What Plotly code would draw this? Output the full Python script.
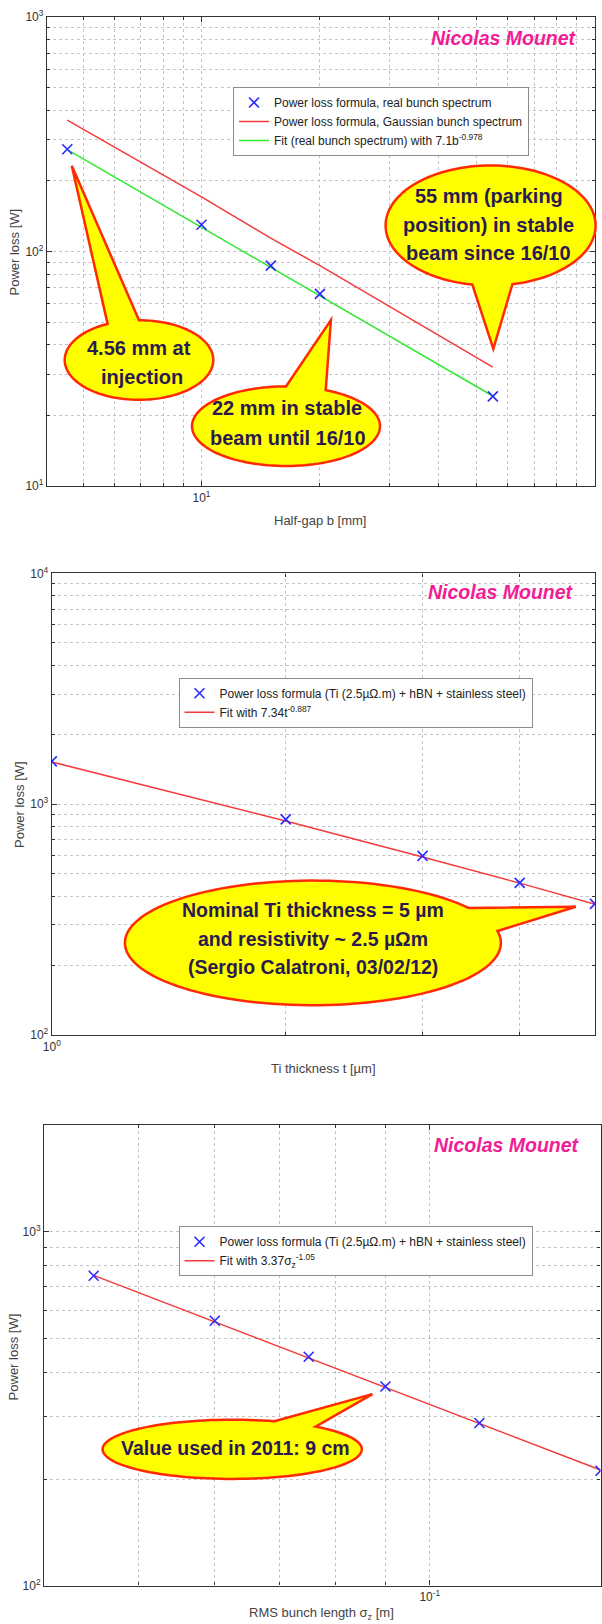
import numpy as np
import plotly.graph_objects as go

W, H = 602, 1624
FONT = "Liberation Sans, Arial, Helvetica, sans-serif"

# ---------------- data ----------------
# Panel 1: power loss vs half-gap
b_mm = [4.56, 10, 15, 20, 55]
loss_real_spectrum = [273, 130, 87, 66, 24.1]
loss_gaussian = [363, 171, 114, 87, 32.1]
fit_real_spectrum = [272, 127, 85.5, 64.5, 24.2]

# Panel 2: power loss vs Ti thickness
ti_thickness_um = [1, 2, 3, 4, 5]
loss_ti = [1534, 860, 597, 456, 370]
fit_ti = [1525, 845, 590, 455, 368]

# Panel 3: power loss vs RMS bunch length
bunch_length_m = [0.045, 0.06, 0.075, 0.09, 0.1125, 0.15]
loss_bunch = [750, 560, 443, 365, 288, 211]
fit_bunch = [752, 556, 441, 364, 288, 212]

# ---------------- ticks ----------------
p1_xtickvals = [10, 100]
p1_xticktext = ["10<sup>1</sup>", "10<sup>2</sup>"]
p1_xminor = [4, 5, 6, 7, 8, 9, 20, 30, 40, 50, 60, 70, 80, 90]
p1_ytickvals = [10, 100, 1000]
p1_yticktext = ["10<sup>1</sup>", "10<sup>2</sup>", "10<sup>3</sup>"]
p1_yminor = [20, 30, 40, 50, 60, 70, 80, 90, 200, 300, 400, 500, 600, 700, 800, 900]

p2_xtickvals = [1]
p2_xticktext = ["10<sup>0</sup>"]
p2_xminor = [2, 3, 4, 5]
p2_ytickvals = [100, 1000, 10000]
p2_yticktext = ["10<sup>2</sup>", "10<sup>3</sup>", "10<sup>4</sup>"]
p2_yminor = [200, 300, 400, 500, 600, 700, 800, 900, 2000, 3000, 4000, 5000, 6000, 7000, 8000, 9000]

p3_xtickvals = [0.1]
p3_xticktext = ["10<sup>-1</sup>"]
p3_xminor = [0.04, 0.05, 0.06, 0.07, 0.08, 0.09]
p3_ytickvals = [100, 1000]
p3_yticktext = ["10<sup>2</sup>", "10<sup>3</sup>"]
p3_yminor = [200, 300, 400, 500, 600, 700, 800, 900, 2000]


def px(x):
    return x / W


def py(y):
    return 1 - y / H


BLUE = "#2a2aff"
RED = "#f43a3a"
GREEN = "#33e833"

fig = go.Figure()

# Panel 1
fig.add_trace(go.Scatter(x=b_mm, y=loss_gaussian, mode="lines", line=dict(color=RED, width=1.5),
                         name="Power loss formula, Gaussian bunch spectrum", xaxis="x", yaxis="y",
                         legend="legend", legendrank=2))
fig.add_trace(go.Scatter(x=b_mm, y=fit_real_spectrum, mode="lines", line=dict(color=GREEN, width=1.5),
                         name="Fit (real bunch spectrum) with 7.1b<sup>-0.978</sup>", xaxis="x", yaxis="y",
                         legend="legend", legendrank=3))
fig.add_trace(go.Scatter(x=b_mm, y=loss_real_spectrum, mode="markers",
                         marker=dict(symbol="x-thin", size=10, line=dict(color=BLUE, width=1.6)),
                         name="Power loss formula, real bunch spectrum", xaxis="x", yaxis="y",
                         legend="legend", legendrank=1))

# Panel 2
fig.add_trace(go.Scatter(x=ti_thickness_um, y=fit_ti, mode="lines", line=dict(color=RED, width=1.5),
                         name="Fit with 7.34t<sup>-0.887</sup>", xaxis="x2", yaxis="y2",
                         legend="legend2", legendrank=2))
fig.add_trace(go.Scatter(x=ti_thickness_um, y=loss_ti, mode="markers",
                         marker=dict(symbol="x-thin", size=10, line=dict(color=BLUE, width=1.6)),
                         name="Power loss formula (Ti (2.5µΩ.m) + hBN + stainless steel)",
                         xaxis="x2", yaxis="y2", legend="legend2", legendrank=1))

# Panel 3
fig.add_trace(go.Scatter(x=bunch_length_m, y=fit_bunch, mode="lines", line=dict(color=RED, width=1.5),
                         name="Fit with 3.37σ<sub>z</sub><sup>-1.05</sup>", xaxis="x3", yaxis="y3",
                         legend="legend3", legendrank=2))
fig.add_trace(go.Scatter(x=bunch_length_m, y=loss_bunch, mode="markers",
                         marker=dict(symbol="x-thin", size=10, line=dict(color=BLUE, width=1.6)),
                         name="Power loss formula (Ti (2.5µΩ.m) + hBN + stainless steel)",
                         xaxis="x3", yaxis="y3", legend="legend3", legendrank=1))

GRID = "#c4c4c4"


def axis(domain, anchor, rng, tv, tt, minor_vals):
    return dict(type="log", domain=domain, anchor=anchor, range=rng, tickmode="array",
                tickvals=tv, ticktext=tt, showline=True, linecolor="#333333", linewidth=1.3,
                mirror="allticks", ticks="inside", ticklen=5, tickcolor="#333333",
                showgrid=True, gridcolor=GRID, griddash="dot", gridwidth=1,
                minor=dict(tickmode="array", tickvals=minor_vals, ticks="inside", ticklen=3,
                           tickcolor="#333333", showgrid=True, gridcolor=GRID, griddash="dot",
                           gridwidth=1),
                zeroline=False, automargin=False,
                tickfont=dict(family=FONT, size=12, color="#333333"))


layout = dict(
    width=W, height=H, margin=dict(l=0, r=0, t=0, b=0),
    paper_bgcolor="white", plot_bgcolor="white",
    font=dict(family=FONT, size=12, color="#333"),
    xaxis=axis([px(47), px(595)], "y", [np.log10(4.05), 2], p1_xtickvals, p1_xticktext, p1_xminor),
    yaxis=axis([py(486), py(17)], "x", [1, 3], p1_ytickvals, p1_yticktext, p1_yminor),
    xaxis2=axis([px(51.8), px(595)], "y2", [0, np.log10(5)], p2_xtickvals, p2_xticktext, p2_xminor),
    yaxis2=axis([py(1035), py(573.4)], "x2", [2, 4], p2_ytickvals, p2_yticktext, p2_yminor),
    xaxis3=axis([px(44.1), px(600.5)], "y3", [np.log10(0.04), np.log10(0.15)], p3_xtickvals,
                p3_xticktext, p3_xminor),
    yaxis3=axis([py(1585.6), py(1125)], "x3", [2, np.log10(2000)], p3_ytickvals, p3_yticktext, p3_yminor),
)

leg_common = dict(xanchor="left", yanchor="top", bgcolor="white", bordercolor="#8c8c8c",
                  borderwidth=1, font=dict(family=FONT, size=12, color="#222"),
                  itemwidth=30, tracegroupgap=0)
layout["legend"] = dict(x=px(233), y=py(87), **leg_common)
layout["legend2"] = dict(x=px(178.5), y=py(677.7), **leg_common)
layout["legend3"] = dict(x=px(178.5), y=py(1226.3), **leg_common)
fig.update_layout(**layout)

# ---------------- callouts ----------------
callouts = [
    dict(cx=139, cy=360, rx=74.3, ry=39.8, a1=-115, a2=-90, tip=(71.8, 165.8)),
    dict(cx=286, cy=426.2, rx=94, ry=39.8, a1=-90, a2=-65, tip=(330.9, 320)),
    dict(cx=490.6, cy=225.5, rx=105, ry=60, a1=78, a2=100, tip=(493.3, 348.9)),
    dict(cx=312.9, cy=942.9, rx=188, ry=62.3, a1=-34, a2=-11, tip=(575.8, 906.7)),
    dict(cx=232.2, cy=1449.3, rx=129.6, ry=29.6, a1=-71, a2=-50, tip=(372.4, 1394.1)),
]
shapes = []
for c in callouts:
    th = np.radians(np.linspace(c["a2"], c["a1"] + 360, 120))
    xs = c["cx"] + c["rx"] * np.cos(th)
    ys = c["cy"] + c["ry"] * np.sin(th)
    pts = list(zip(xs, ys)) + [c["tip"]]
    path = "M " + " L ".join(f"{px(x):.5f},{py(y):.5f}" for x, y in pts) + " Z"
    shapes.append(dict(type="path", path=path, xref="paper", yref="paper",
                       fillcolor="#ffff00", line=dict(color="#ff2a00", width=2.5), layer="above"))
fig.update_layout(shapes=shapes)

callout_lines = [
    ("4.56 mm at", 139, 348.3, 20),
    ("injection", 141.5, 377.4, 20),
    ("22 mm in stable", 287, 408, 20),
    ("beam until 16/10", 287.5, 437.8, 20),
    ("55 mm (parking", 488.5, 195.7, 20),
    ("position) in stable", 488.5, 224.5, 20),
    ("beam since 16/10", 488.5, 252.7, 20),
    ("Nominal Ti thickness = 5 µm", 313.4, 910, 19.5),
    ("and resistivity ~ 2.5 µΩm", 312.9, 938.7, 19.5),
    ("(Sergio Calatroni, 03/02/12)", 313, 967, 19.5),
    ("Value used in 2011: 9 cm", 235, 1447.6, 19.5),
]
for txt, x, y, s in callout_lines:
    fig.add_annotation(text=txt, x=px(x), y=py(y), xref="paper", yref="paper", showarrow=False,
                       xanchor="center", yanchor="middle",
                       font=dict(family=FONT, size=s, color="#2b1a4f", weight="bold"))

# author tags
for x, y in [(579, 38), (576, 591.7), (581.6, 1145)]:
    fig.add_annotation(text="Nicolas Mounet", x=px(x), y=py(y), xref="paper", yref="paper",
                       showarrow=False, xanchor="right", yanchor="middle",
                       font=dict(family=FONT, size=19.5, color="#f21c96", weight="bold", style="italic"))

# axis titles
axis_titles = [
    ("Half-gap b [mm]", 320, 521, 0),
    ("Power loss [W]", 14.5, 252, -90),
    ("Ti thickness t [µm]", 323, 1068.6, 0),
    ("Power loss [W]", 19, 805, -90),
    ("RMS bunch length σ<sub>z</sub> [m]", 321.5, 1613, 0),
    ("Power loss [W]", 13.4, 1357, -90),
]
for txt, x, y, ang in axis_titles:
    fig.add_annotation(text=txt, x=px(x), y=py(y), xref="paper", yref="paper", showarrow=False,
                       xanchor="center", yanchor="middle", textangle=ang,
                       font=dict(family=FONT, size=13, color="#444444"))

fig.write_html("out.html")
